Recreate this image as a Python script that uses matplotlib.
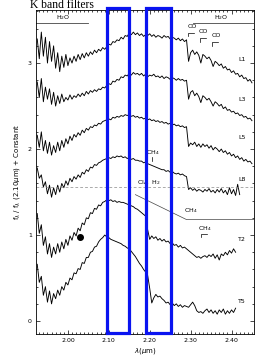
import numpy as np
import matplotlib
matplotlib.use('Agg')
from matplotlib import pyplot as plt
from matplotlib.ticker import MultipleLocator
from matplotlib.patches import Rectangle

# wavelength grid (micron), 0.005 steps, 1.925 .. 2.450
wave = np.round(np.arange(1.925, 2.4501, 0.005), 3)
nan = np.nan

# each row = 10 samples (0.05 micron)
l1 = [3.28, 3.05, 3.36, 3.08, 3.30, 3.00, 3.25, 3.02, 3.20, 2.94,
      3.12, 2.90, 3.08, 2.95, 3.10, 2.97, 3.06, 3.00, 3.08, 3.02,
      3.10, 3.04, 3.11, 3.06, 3.12, 3.08, 3.13, 3.10, 3.15, 3.12,
      3.16, 3.14, 3.18, 3.16, 3.19, 3.22, 3.21, 3.25, 3.24, 3.27,
      3.26, 3.30, 3.28, 3.32, 3.31, 3.35, 3.33, 3.36, 3.33, 3.35,
      3.32, 3.34, 3.31, 3.33, 3.32, 3.34, 3.31, 3.33, 3.30, 3.32,
      3.31, 3.29, 3.32, 3.30, 3.31, 3.28, 3.30, 3.29, 3.27, 3.29,
      3.26, 3.28, 3.25, 3.27, 3.02, 3.12, 3.15, 3.10, 3.13, 3.09,
      3.00, 3.10, 3.08, 3.05, 3.07, 3.03, 2.96, 3.02, 3.00, 2.97,
      2.99, 2.94, 2.96, 2.92, 2.93, 2.89, 2.91, 2.87, 2.88, 2.84,
      2.86, 2.82, 2.83, 2.79, 2.81, 2.77]
l3 = [2.78, 2.60, 2.82, 2.55, 2.72, 2.58, 2.70, 2.52, 2.66, 2.50,
      2.62, 2.53, 2.64, 2.55, 2.60, 2.57, 2.63, 2.58, 2.62, 2.60,
      2.64, 2.61, 2.65, 2.62, 2.67, 2.64, 2.68, 2.66, 2.69, 2.67,
      2.70, 2.69, 2.72, 2.71, 2.74, 2.76, 2.75, 2.79, 2.78, 2.81,
      2.80, 2.84, 2.83, 2.86, 2.85, 2.88, 2.86, 2.89, 2.87, 2.88,
      2.86, 2.88, 2.85, 2.87, 2.84, 2.86, 2.85, 2.87, 2.84, 2.85,
      2.83, 2.85, 2.82, 2.84, 2.83, 2.81, 2.83, 2.82, 2.80, 2.82,
      2.80, 2.81, 2.79, 2.80, 2.58, 2.66, 2.68, 2.62, 2.65, 2.61,
      2.54, 2.62, 2.60, 2.57, 2.59, 2.55, 2.50, 2.55, 2.53, 2.50,
      2.52, 2.47, 2.49, 2.45, 2.46, 2.43, 2.44, 2.41, 2.42, 2.39,
      2.40, 2.37, 2.38, 2.35, 2.36, 2.33]
l5 = [2.16, 2.02, 2.20, 1.98, 2.10, 1.95, 2.08, 1.93, 2.04, 1.96,
      2.08, 1.98, 2.10, 2.02, 2.12, 2.06, 2.15, 2.10, 2.17, 2.14,
      2.19, 2.16, 2.22, 2.19, 2.24, 2.22, 2.26, 2.25, 2.28, 2.27,
      2.30, 2.29, 2.32, 2.33, 2.34, 2.35, 2.34, 2.37, 2.36, 2.38,
      2.37, 2.39, 2.38, 2.40, 2.39, 2.40, 2.38, 2.39, 2.37, 2.38,
      2.36, 2.37, 2.35, 2.36, 2.34, 2.35, 2.33, 2.34, 2.32, 2.33,
      2.31, 2.32, 2.30, 2.31, 2.29, 2.30, 2.28, 2.29, 2.27, 2.28,
      2.26, 2.27, 2.25, 2.26, 2.03, 2.07, 2.05, 2.08, 2.03, 2.06,
      2.02, 2.06, 2.03, 2.05, 2.01, 2.04, 1.99, 2.02, 2.00, 1.97,
      2.00, 1.96, 1.98, 1.94, 1.96, 1.92, 1.94, 1.90, 1.92, 1.88,
      1.90, 1.86, 1.88, 1.85, 1.86, 1.83]
l8 = [1.78, 1.66, 1.70, 1.56, 1.62, 1.48, 1.58, 1.44, 1.55, 1.47,
      1.58, 1.50, 1.60, 1.55, 1.63, 1.58, 1.66, 1.62, 1.68, 1.65,
      1.70, 1.67, 1.73, 1.71, 1.76, 1.74, 1.79, 1.78, 1.82, 1.81,
      1.84, 1.85, 1.87, 1.88, 1.89, 1.90, 1.89, 1.91, 1.90, 1.92,
      1.91, 1.92, 1.90, 1.91, 1.89, 1.90, 1.88, 1.89, 1.87, 1.87,
      1.86, 1.86, 1.84, 1.85, 1.83, 1.82, 1.81, 1.80, 1.79, 1.78,
      1.77, 1.76, 1.76, 1.74, 1.75, 1.73, 1.74, 1.72, 1.71, 1.72,
      1.70, 1.71, 1.69, 1.68, 1.53, 1.55, 1.52, 1.54, 1.51, 1.53,
      1.52, 1.50, 1.53, 1.51, 1.54, 1.50, 1.52, 1.49, 1.53, 1.50,
      1.54, 1.49, 1.52, 1.47, 1.55, 1.48, 1.53, 1.46, 1.59, 1.47,
      nan, nan, nan, nan, nan, nan]
t2 = [1.25, 1.02, 1.12, 0.88, 0.98, 0.78, 0.90, 0.74, 0.86, 0.78,
      0.90, 0.80, 0.92, 0.84, 0.95, 0.88, 0.99, 0.94, 1.03, 0.99,
      1.08, 1.05, 1.14, 1.12, 1.20, 1.19, 1.26, 1.25, 1.31, 1.30,
      1.35, 1.34, 1.38, 1.39, 1.41, 1.40, 1.41, 1.39, 1.40, 1.38,
      1.39, 1.38, 1.38, 1.37, 1.36, 1.35, 1.34, 1.33, 1.31, 1.30,
      1.28, 1.26, 1.24, 1.22, 1.06, 0.95, 0.99, 0.96, 0.98, 0.94,
      0.96, 0.93, 0.95, 0.92, 0.93, 0.90, 0.91, 0.88, 0.89, 0.86,
      0.88, 0.85, 0.86, 0.84, 0.82, 0.80, 0.78, 0.76, 0.74, 0.75,
      0.73, 0.75, 0.76, 0.74, 0.77, 0.75, 0.78, 0.73, 0.77, 0.71,
      0.78, 0.76, 0.80, 0.77, 0.82, 0.79, 0.84, 0.80, nan, nan,
      nan, nan, nan, nan, nan, nan]
t5 = [0.66, 0.45, 0.52, 0.30, 0.40, 0.22, 0.35, 0.20, 0.32, 0.26,
      0.36, 0.30, 0.40, 0.36, 0.45, 0.42, 0.50, 0.48, 0.56, 0.55,
      0.61, 0.60, 0.68, 0.67, 0.74, 0.74, 0.80, 0.81, 0.86, 0.87,
      0.92, 0.95, 0.97, 1.00, 0.98, 0.97, 0.95, 0.94, 0.93, 0.92,
      0.91, 0.90, 0.88, 0.87, 0.85, 0.84, 0.81, 0.78, 0.75, 0.71,
      0.67, 0.64, 0.60, 0.57, 0.53, 0.38, 0.21, 0.27, 0.31, 0.28,
      0.29, 0.26, 0.24, 0.21, 0.22, 0.19, 0.21, 0.18, 0.20, 0.17,
      0.19, 0.16, 0.18, 0.17, 0.16, 0.19, 0.22, 0.18, 0.12, 0.10,
      0.11, 0.09, 0.12, 0.14, 0.10, 0.13, 0.09, 0.12, 0.08, 0.13,
      0.10, 0.14, 0.08, 0.12, 0.09, 0.13, 0.10, 0.15, nan, nan,
      nan, nan, nan, nan, nan, nan]

spectra = [l1, l3, l5, l8, t2, t5]
names = ['L1', 'L3', 'L5', 'L8', 'T2', 'T5']
name_y = [3.04, 2.58, 2.14, 1.65, 0.95, 0.23]

# filter windows (micron)
filters = [(2.095, 2.149), (2.190, 2.251)]

# CH4 guide line and CIA H2 level
ch4_x = [2.165, 2.29, 2.455]
ch4_y = [1.47, 1.18, 1.18]
cia_level = 1.56
dot_x, dot_y = 2.03, 0.98

fig = plt.figure(figsize=(2.77, 3.63), dpi=100)
ax = fig.add_axes([0.130, 0.080, 0.787, 0.892])

for s in spectra:
    ax.plot(wave, s, color='black', lw=0.65)

for nm, yy in zip(names, name_y):
    ax.text(2.425, yy, nm, fontsize=4.5, ha='center', va='center')

ax.axhline(cia_level, color='#888888', lw=0.5, ls=(0, (4, 3)))
ax.plot(ch4_x, ch4_y, color='#444444', lw=0.5)
ax.plot([dot_x], [dot_y], 'o', color='black', ms=4)

# feature annotations
ax.plot([1.922, 2.05], [3.46, 3.46], color='#444444', lw=0.6)
ax.text(1.988, 3.53, 'H$_2$O', fontsize=4.5, ha='center', va='center')
ax.plot([2.305, 2.455], [3.46, 3.46], color='#444444', lw=0.6)
ax.text(2.375, 3.53, 'H$_2$O', fontsize=4.5, ha='center', va='center')

co_x = [2.294, 2.323, 2.353]
co_y = [3.43, 3.37, 3.32]
for cx, cy in zip(co_x, co_y):
    ax.text(cx + 0.009, cy, 'CO', fontsize=4.5, ha='center', va='center')
    ax.plot([cx, cx, cx + 0.015], [cy - 0.12, cy - 0.08, cy - 0.08], color='black', lw=0.5)

ax.text(2.207, 1.96, 'CH$_4$', fontsize=4.5, ha='center', va='center')
ax.plot([2.205, 2.205], [1.86, 1.91], color='black', lw=0.5)
ax.text(2.197, 1.61, 'CIA  H$_2$', fontsize=4.5, ha='center', va='center')
ax.text(2.300, 1.29, 'CH$_4$', fontsize=4.5, ha='center', va='center')
ax.text(2.334, 1.08, 'CH$_4$', fontsize=4.5, ha='center', va='center')
ax.plot([2.326, 2.326, 2.340], [0.98, 1.01, 1.01], color='black', lw=0.5)

for x0, x1 in filters:
    ax.add_patch(Rectangle((x0, -0.14), x1 - x0, 3.78, fill=False,
                           edgecolor='#0a14f0', lw=2.3, clip_on=False, zorder=5))

ax.set_xlim(1.922, 2.455)
ax.set_ylim(-0.15, 3.615)
ax.xaxis.set_major_locator(MultipleLocator(0.1))
ax.xaxis.set_minor_locator(MultipleLocator(0.01))
ax.yaxis.set_major_locator(MultipleLocator(1))
ax.yaxis.set_minor_locator(MultipleLocator(0.2))
ax.xaxis.set_major_formatter(matplotlib.ticker.FormatStrFormatter('%.2f'))
ax.tick_params(which='both', direction='in', top=True, right=True, labelsize=4.5, width=0.5, pad=3)
ax.tick_params(which='major', length=3)
ax.tick_params(which='minor', length=1.5)
for sp in ax.spines.values():
    sp.set_linewidth(0.6)

ax.set_xlabel('$\\lambda$($\\mu$m)', fontsize=5, labelpad=2)
ax.set_ylabel('f$_\\lambda$ / f$_\\lambda$ (2.10$\\mu$m) + Constant', fontsize=5, labelpad=4)

fig.text(0.108, 1 - 7.5 / 363, 'K band filters', fontsize=8.4, family='Liberation Serif', va='baseline')

fig.savefig('out.png', dpi=100)
